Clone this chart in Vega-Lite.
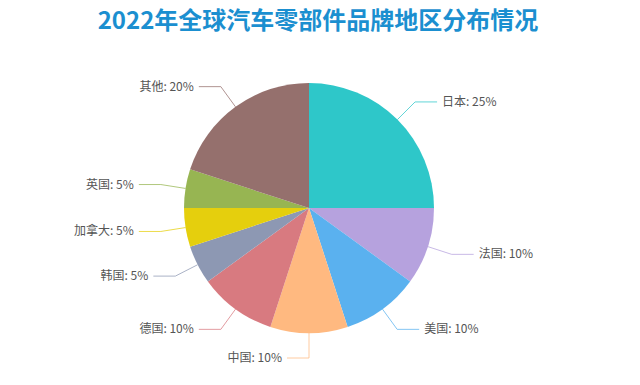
{
  "$schema": "https://vega.github.io/schema/vega-lite/v6.json",
  "autosize": {"type": "none"},
  "width": 618,
  "height": 320,
  "padding": {"top": 48, "left": 0, "right": 22, "bottom": 17},
  "background": "white",
  "config": {"view": {"stroke": null}, "font": "Noto Sans CJK SC"},
  "title": {
    "text": "2022年全球汽车零部件品牌地区分布情况",
    "anchor": "middle",
    "fontSize": 24,
    "fontWeight": "bold",
    "color": "#1b8fd0",
    "font": "Noto Sans CJK SC",
    "offset": 14,
    "dx": 9
  },
  "data": {
    "values": [
      {"name": "日本", "value": 25, "order": 1},
      {"name": "法国", "value": 10, "order": 2},
      {"name": "美国", "value": 10, "order": 3},
      {"name": "中国", "value": 10, "order": 4},
      {"name": "德国", "value": 10, "order": 5},
      {"name": "韩国", "value": 5, "order": 6},
      {"name": "加拿大", "value": 5, "order": 7},
      {"name": "英国", "value": 5, "order": 8},
      {"name": "其他", "value": 20, "order": 9}
    ]
  },
  "transform": [
    {"window": [{"op": "sum", "field": "value", "as": "cum"}], "sort": [{"field": "order"}], "frame": [null, 0]},
    {"calculate": "(datum.cum - datum.value / 2) / 100 * 2 * PI", "as": "a"},
    {"calculate": "sin(datum.a) > 0.001 ? 1 : -1", "as": "dir"},
    {"calculate": "125 * sin(datum.a)", "as": "x0"},
    {"calculate": "125 * cos(datum.a)", "as": "y0"},
    {"calculate": "150 * sin(datum.a)", "as": "x1"},
    {"calculate": "150 * cos(datum.a)", "as": "y1"},
    {"calculate": "datum.x1 + 22 * datum.dir", "as": "x2"},
    {"calculate": "datum.name + ': ' + datum.value + '%'", "as": "label"}
  ],
  "layer": [
    {
      "mark": {"type": "arc", "outerRadius": 125},
      "encoding": {
        "theta": {"field": "value", "type": "quantitative", "stack": true},
        "order": {"field": "order", "type": "quantitative"},
        "color": {
          "field": "name",
          "type": "nominal",
          "legend": null,
          "scale": {
            "domain": ["日本", "法国", "美国", "中国", "德国", "韩国", "加拿大", "英国", "其他"],
            "range": ["#2ec7c9", "#b6a2de", "#5ab1ef", "#ffb980", "#d87a80", "#8d98b3", "#e5cf0d", "#97b552", "#95706d"]
          }
        }
      }
    },
    {
      "mark": {"type": "rule", "strokeWidth": 1, "opacity": 0.75},
      "encoding": {
        "x": {"field": "x0", "type": "quantitative", "axis": null, "scale": {"domain": [-309, 309], "nice": false, "zero": false}},
        "y": {"field": "y0", "type": "quantitative", "axis": null, "scale": {"domain": [-160, 160], "nice": false, "zero": false}},
        "x2": {"field": "x1"},
        "y2": {"field": "y1"},
        "color": {"field": "name", "type": "nominal", "legend": null}
      }
    },
    {
      "mark": {"type": "rule", "strokeWidth": 1, "opacity": 0.75},
      "encoding": {
        "x": {"field": "x1", "type": "quantitative"},
        "y": {"field": "y1", "type": "quantitative"},
        "x2": {"field": "x2"},
        "color": {"field": "name", "type": "nominal", "legend": null}
      }
    },
    {
      "transform": [{"filter": "datum.dir > 0"}],
      "mark": {"type": "text", "align": "left", "baseline": "middle", "dx": 5, "fontSize": 12, "color": "#555555", "font": "Noto Sans CJK SC"},
      "encoding": {
        "x": {"field": "x2", "type": "quantitative"},
        "y": {"field": "y1", "type": "quantitative"},
        "text": {"field": "label"}
      }
    },
    {
      "transform": [{"filter": "datum.dir < 0"}],
      "mark": {"type": "text", "align": "right", "baseline": "middle", "dx": -5, "fontSize": 12, "color": "#555555", "font": "Noto Sans CJK SC"},
      "encoding": {
        "x": {"field": "x2", "type": "quantitative"},
        "y": {"field": "y1", "type": "quantitative"},
        "text": {"field": "label"}
      }
    }
  ]
}
